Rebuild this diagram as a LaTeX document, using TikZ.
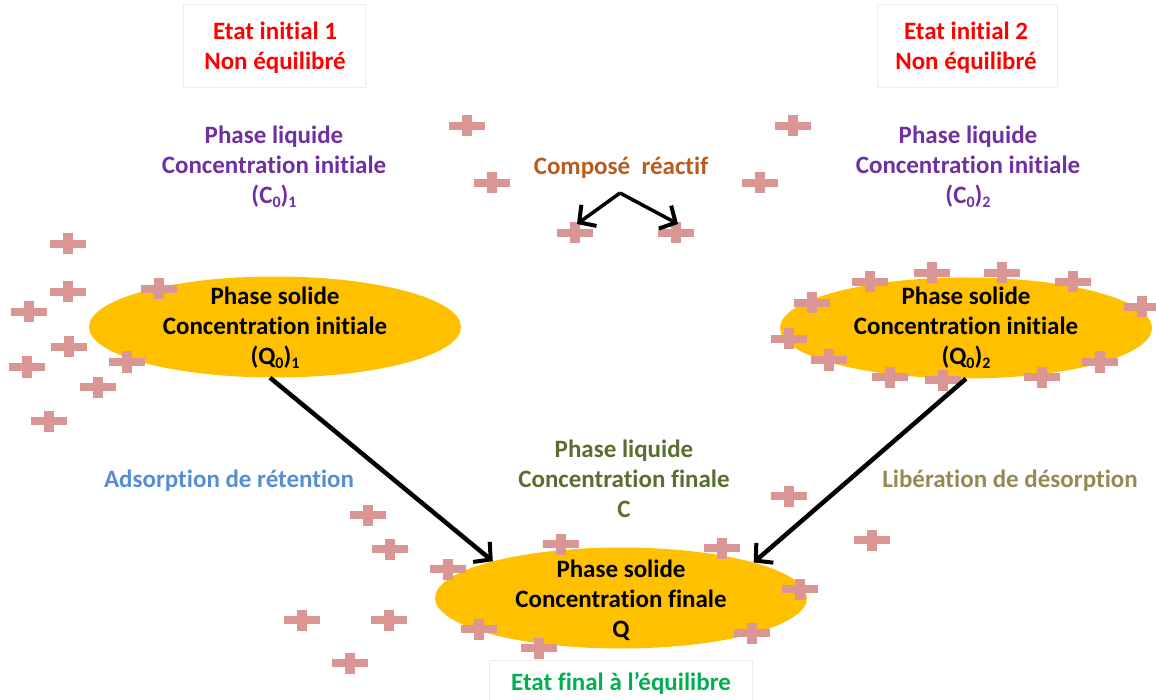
\documentclass[tikz,border=0pt]{standalone}
\usepackage{fontspec}
\setmainfont{Carlito}[Ligatures=NoCommon]
\usetikzlibrary{arrows.meta,shapes.geometric}
\definecolor{crosscol}{HTML}{D99694}
\definecolor{orng}{HTML}{FFC000}
\definecolor{rd}{HTML}{FF0000}
\definecolor{purp}{HTML}{7030A0}
\definecolor{brwn}{HTML}{B85C1E}
\definecolor{olv}{HTML}{5A6E32}
\definecolor{grn}{HTML}{00B050}
\definecolor{blu}{HTML}{558ED5}
\definecolor{khak}{HTML}{948A54}
\newcommand\mysub[1]{\raisebox{-0.3ex}{\fontsize{16}{16}\selectfont #1}}
\tikzset{
  txt/.style={font=\fontsize{25}{30}\selectfont\bfseries, align=center, inner sep=0pt},
  blob/.style={ellipse, fill=orng, minimum width=372pt, minimum height=101pt, inner sep=0pt},
  lbox/.style={draw=black!7, line width=0.8pt, fill=white},
  arr/.style={line width=4.5pt, -{Straight Barb[length=12pt,width=26pt,line width=4pt]}},
  crs/.pic={\fill[crosscol] (-18,-4) rectangle (18,4); \fill[crosscol] (-5,-10.5) rectangle (5,10.5);}
}
\begin{document}
\begin{tikzpicture}[x=1pt,y=-1pt]
\useasboundingbox (0,0) rectangle (1156,700);
% label boxes
\node[lbox, minimum width=182pt, minimum height=83pt] (b1) at (274,46) {};
\node[lbox, minimum width=180pt, minimum height=83pt] (b2) at (967,46) {};
\node[lbox, minimum width=263pt, minimum height=45pt] (b3) at (621,683) {};
\node[txt, text=rd] (t1) at (275,48) {Etat initial 1\\Non équilibré};
\node[txt, text=rd] (t2) at (966,48) {Etat initial 2\\Non équilibré};
% liquid phase labels
\node[txt, text=purp] (l1) at (274,167) {Phase liquide\\Concentration initiale\\(C\mysub{0})\mysub{1}};
\node[txt, text=purp] (l2) at (968,167) {Phase liquide\\Concentration initiale\\(C\mysub{0})\mysub{2}};
\node[txt, text=brwn] (comp) at (621,168) {Composé\ \ réactif};
\node[txt, text=olv] (l3) at (624,479) {Phase liquide\\Concentration finale\\C};
\node[txt, text=blu] (ads) at (229,481) {Adsorption de rétention};
\node[txt, text=khak] (lib) at (1010,481) {Libération de désorption};
\node[txt, text=grn] (fin) at (621,683) {Etat final à l’équilibre};
% ellipses
\node[blob] (e1) at (275,327) {};
\node[blob] (e2) at (966,328) {};
\node[blob] (e3) at (621,598) {};
\node[txt] (s1) at (275,328) {Phase solide\\Concentration initiale\\(Q\mysub{0})\mysub{1}};
\node[txt] (s2) at (966,328) {Phase solide\\Concentration initiale\\(Q\mysub{0})\mysub{2}};
\node[txt] (s3) at (621,600) {Phase solide\\Concentration finale\\Q};
% crosses
\foreach \p in {(467,126),(492,183),(793,126),(760,183),(575,233),(676,233),
  (68,244),(68,292),(29,312),(159,289),(69,347),(27,367),(127,362),(98,387),(49,421),
  (870,282),(932,273),(1002,273),(1073,282),(812,303),(1142,307),(789,339),(829,360),(890,377),(943,380),(1042,377),(1100,362),
  (368,515),(390,549),(448,569),(561,544),(722,548),(789,496),(800,589),(479,629),(539,648),(752,633),(389,620),(350,663),(872,540),(302,620)}
  \pic at \p {crs};
% connectors
\coordinate (fork) at (620,193);
\coordinate (k1) at (577,224);
\coordinate (k2) at (678,224);
\draw[arr, line width=3.5pt] (fork) -- (k1);
\draw[arr, line width=3.5pt] (fork) -- (k2);
\draw[arr] ([xshift=-5pt]e1.south) -- (e3.164);
\draw[arr] (e2.south) -- (e3.15);
\end{tikzpicture}
\end{document}
